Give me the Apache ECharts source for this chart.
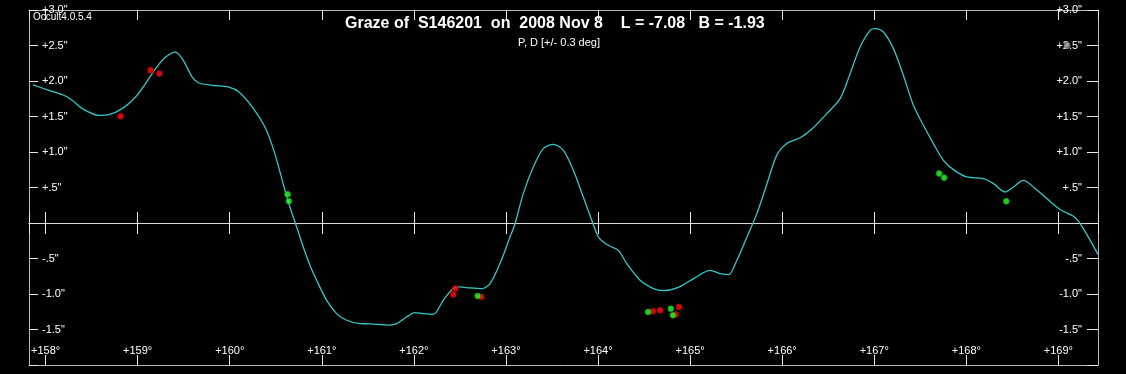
<!DOCTYPE html>
<html>
<head>
<meta charset="utf-8">
<script src="https://cdn.jsdelivr.net/npm/echarts@6/dist/echarts.min.js"></script>
<style>
html,body{margin:0;padding:0;background:#000;}
#chart{width:1126px;height:374px;}
</style>
</head>
<body>
<div id="chart"></div>
<script>
// Limb profile (degrees of position angle, arcsec)
const limbX = [157.862,158.036,158.199,158.289,158.398,158.579,158.688,158.832,158.978,159.086,159.195,159.304,159.412,159.484,159.593,159.665,159.810,159.991,160.100,160.244,160.390,160.490,160.590,160.654,160.727,160.799,160.871,160.944,161.053,161.161,161.270,161.415,161.523,161.740,161.813,161.922,162.012,162.102,162.211,162.319,162.428,162.501,162.609,162.737,162.827,162.935,163.044,163.099,163.188,163.297,163.406,163.514,163.623,163.732,163.840,163.932,164.004,164.058,164.131,164.221,164.312,164.457,164.602,164.711,164.856,165.037,165.218,165.327,165.417,165.508,165.617,165.725,165.834,165.943,166.051,166.196,166.320,166.484,166.629,166.738,166.846,166.955,167.009,167.099,167.208,167.316,167.425,167.534,167.643,167.751,167.860,168.005,168.186,168.295,168.422,168.512,168.620,168.729,168.874,169.019,169.164,169.236,169.345,169.431];
const limbY = [1.944,1.869,1.799,1.728,1.611,1.517,1.527,1.611,1.775,1.963,2.175,2.338,2.408,2.315,2.056,1.972,1.939,1.915,1.845,1.634,1.330,0.977,0.507,0.225,-0.056,-0.338,-0.596,-0.807,-1.089,-1.276,-1.370,-1.417,-1.420,-1.437,-1.417,-1.324,-1.262,-1.276,-1.286,-1.089,-0.924,-0.901,-0.915,-0.924,-0.854,-0.572,-0.197,-0.010,0.414,0.789,1.048,1.108,1.024,0.742,0.366,0.038,-0.197,-0.268,-0.328,-0.385,-0.572,-0.807,-0.924,-0.953,-0.915,-0.784,-0.666,-0.713,-0.727,-0.525,-0.197,0.132,0.550,0.960,1.120,1.200,1.320,1.541,1.752,2.104,2.479,2.714,2.738,2.690,2.456,2.080,1.658,1.376,1.118,0.883,0.752,0.648,0.625,0.555,0.437,0.507,0.601,0.507,0.344,0.189,0.094,-0.008,-0.244,-0.445];

// Observed events
const redX = [158.815,159.141,159.235,162.450,162.428,162.733,164.595,164.675,164.881,164.842];
const redY = [1.503,2.151,2.104,-0.924,-1.008,-1.042,-1.244,-1.230,-1.183,-1.290];
const greenX = [160.629,160.643,162.693,164.544,164.791,164.813,167.705,167.759,168.434];
const greenY = [0.404,0.306,-1.028,-1.253,-1.206,-1.300,0.696,0.639,0.306];
const greyX = [169.094];
const greyY = [2.503];

// Tick labels
const yTickValues = [-1.5,-1,-0.5,0.5,1,1.5,2,2.5,3];
const yTickLabels = ['-1.5"','-1.0"','-.5"','+.5"','+1.0"','+1.5"','+2.0"','+2.5"','+3.0"'];
const xTickValues = [158,159,160,161,162,163,164,165,166,167,168,169];
const xTickLabels = ['+158°','+159°','+160°','+161°','+162°','+163°','+164°','+165°','+166°','+167°','+168°','+169°'];

const titleText = 'Graze of  S146201  on  2008 Nov 8    L = -7.08   B = -1.93';
const subTitleText = 'P, D [+/- 0.3 deg]';
const versionText = 'Occult4.0.5.4';

const zip = (xs, ys) => xs.map((x, i) => [x, ys[i]]);
const yFmt = v => { const i = yTickValues.findIndex(t => Math.abs(t - v) < 1e-6); return i < 0 ? '' : yTickLabels[i]; };
const xFmt = v => { const i = xTickValues.findIndex(t => Math.abs(t - v) < 1e-6); return i < 0 ? '' : xTickLabels[i]; };

const FONT = 'Liberation Sans, Arial, sans-serif';
const frameColor = '#b8b8b8';
const tickColor = '#e6e6e6';

function xAx(opts) {
  return Object.assign({
    type: 'value', min: 157.82, max: 169.43, minInterval: 1, maxInterval: 1,
    splitLine: { show: false },
    axisLabel: { show: false },
    axisLine: { show: true, onZero: false, lineStyle: { color: frameColor, width: 1 } },
    axisTick: { show: true, inside: true, length: 10, lineStyle: { color: tickColor, width: 1 } }
  }, opts);
}

const chart = echarts.init(document.getElementById('chart'), null, { renderer: 'canvas' });
chart.setOption({
  backgroundColor: '#000',
  animation: false,
  grid: { left: 29, right: 28, top: 10, bottom: 9, show: false, containLabel: false },
  xAxis: [
    xAx({ position: 'bottom',
      axisLabel: { show: true, inside: true, margin: 9, color: '#fff', fontSize: 11, fontFamily: FONT,
        formatter: xFmt, showMinLabel: false, showMaxLabel: false } }),
    xAx({ position: 'top' }),
    xAx({ position: 'bottom', axisLine: { show: true, onZero: true, lineStyle: { color: '#d8d8d8', width: 1 } },
      axisTick: { show: true, inside: true, length: 11, lineStyle: { color: tickColor, width: 1 } } }),
    xAx({ position: 'top', axisLine: { show: true, onZero: true, lineStyle: { color: '#d8d8d8', width: 1 } },
      axisTick: { show: true, inside: true, length: 11, lineStyle: { color: tickColor, width: 1 } } })
  ],
  yAxis: [
    { type: 'value', position: 'left', min: -2, max: 3, interval: 0.5,
      splitLine: { show: false },
      axisLine: { show: true, onZero: false, lineStyle: { color: frameColor } },
      axisTick: { show: true, inside: true, length: 9, lineStyle: { color: tickColor } },
      axisLabel: { inside: true, margin: 13, color: '#fff', fontSize: 11, fontFamily: FONT, formatter: yFmt } },
    { type: 'value', position: 'right', min: -2, max: 3, interval: 0.5,
      splitLine: { show: false },
      axisLine: { show: true, onZero: false, lineStyle: { color: frameColor } },
      axisTick: { show: true, inside: true, length: 11, lineStyle: { color: tickColor } },
      axisLabel: { inside: true, margin: 16, color: '#fff', fontSize: 11, fontFamily: FONT, formatter: yFmt } }
  ],
  series: [
    { name: 'limb', type: 'line', xAxisIndex: 0, yAxisIndex: 0, data: zip(limbX, limbY),
      showSymbol: false, smooth: 0.3, lineStyle: { color: '#33c8c8', width: 1.3 }, z: 3 },
    { name: 'red', type: 'scatter', xAxisIndex: 0, yAxisIndex: 0, data: zip(redX, redY),
      symbolSize: 6, itemStyle: { color: '#ff1010', borderColor: '#b00000', borderWidth: 1 }, z: 5 },
    { name: 'green', type: 'scatter', xAxisIndex: 0, yAxisIndex: 0, data: zip(greenX, greenY),
      symbolSize: 6, itemStyle: { color: '#30ff30', borderColor: '#109010', borderWidth: 1 }, z: 5 },
    { name: 'grey', type: 'scatter', xAxisIndex: 0, yAxisIndex: 0, data: zip(greyX, greyY),
      symbolSize: 6, itemStyle: { color: '#a8a8a8', borderColor: '#707070', borderWidth: 1 }, z: 5 }
  ],
  graphic: [
    { type: 'text', left: 555 - 210, top: 16, z: 10,
      style: { text: titleText, fill: '#fff', font: 'bold 16px ' + FONT } },
    { type: 'text', x: 559, y: 43, z: 10,
      style: { text: subTitleText, fill: '#fff', font: '11px ' + FONT, textAlign: 'center', textVerticalAlign: 'middle' } },
    { type: 'text', x: 33, y: 17, z: 10,
      style: { text: versionText, fill: '#fff', font: '10px ' + FONT, textAlign: 'left', textVerticalAlign: 'middle' } }
  ]
});
</script>
</body>
</html>
